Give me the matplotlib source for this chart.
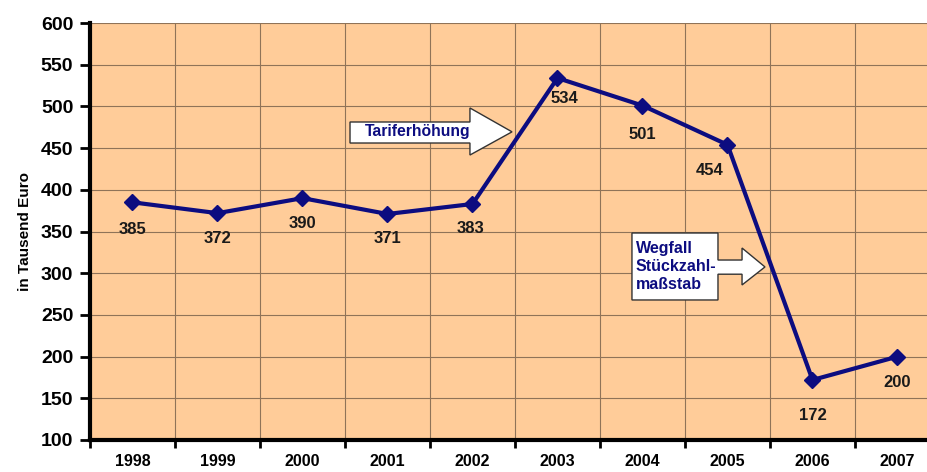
import matplotlib.pyplot as plt
from matplotlib.patches import Polygon

plt.rcParams['font.family'] = ['Liberation Sans', 'DejaVu Sans']

years = ['1998', '1999', '2000', '2001', '2002', '2003', '2004', '2005', '2006', '2007']
values = [385, 372, 390, 371, 383, 534, 501, 454, 172, 200]
# label offsets from each point in pixels (dx, dy), dy negative = below
label_offsets = [(0, -27), (0, -25), (0, -25), (0, -25), (-2, -25),
                 (7, -20), (0, -29), (-18, -26), (0, -36), (0, -26)]

navy = '#0c0c80'
peach = '#ffcc99'
gridc = '#8f7358'

fig = plt.figure(figsize=(9.28, 4.72), dpi=100)
ax = fig.add_axes([90/928, 32/472, 1 - 90/928, (440-23)/472])
ax.set_facecolor(peach)

x = list(range(len(years)))
ax.plot(x, values, c=navy, lw=3, marker='D', ms=8, zorder=5)

for xi, v, (dx, dy) in zip(x, values, label_offsets):
    ax.annotate(str(v), (xi, v), xytext=(dx*0.72, dy*0.72), textcoords='offset points',
                ha='center', va='center', fontsize=12, fontweight='bold', color='#1a1a1a', zorder=6)

ax.set_xlim(-0.5, (928-90)/85 - 0.5)
ax.set_ylim(100, 600)

# grid lines at category boundaries, labels at centres
ax.set_xticks([i - 0.5 for i in range(len(years))])
ax.set_xticklabels([])
ax.set_xticks(x, minor=True)
ax.set_xticklabels(years, minor=True, fontsize=11.5, fontweight='bold')
ax.tick_params(axis='x', which='major', direction='out', length=6, width=2)
ax.tick_params(axis='x', which='minor', length=0, pad=10)

ax.set_yticks(range(100, 601, 50))
ax.tick_params(axis='y', direction='out', length=7, width=2, labelsize=14, pad=5)
for lab in ax.get_yticklabels():
    lab.set_fontweight('bold')

ax.grid(True, which='major', color=gridc, lw=0.8)
ax.set_axisbelow(True)

for s in ['top', 'right']:
    ax.spines[s].set_visible(False)
ax.spines['left'].set_linewidth(3)
ax.spines['bottom'].set_linewidth(3)

ax.set_ylabel('in Tausend Euro', fontsize=11, fontweight='bold', labelpad=6)

# arrow 1: Tariferhöhung
arrow1 = [(2.559, 481.3), (3.97, 481.3), (3.97, 498.1), (4.465, 469.5),
          (3.97, 441.7), (3.97, 456.1), (2.559, 456.1)]
ax.add_patch(Polygon(arrow1, closed=True, fc='white', ec='#333333', lw=1, zorder=4))
ax.text(3.36, 469.5, 'Tariferhöhung', ha='center', va='center', color=navy,
        fontsize=11.3, fontweight='bold', zorder=6)

# arrow 2: Wegfall Stückzahlmaßstab
arrow2 = [(5.876, 348.2), (6.888, 348.2), (6.888, 315.8), (7.171, 315.8), (7.171, 330.2),
          (7.441, 307.5), (7.171, 285.9), (7.171, 298.8), (6.888, 298.8), (6.888, 267.9),
          (5.876, 267.9)]
ax.add_patch(Polygon(arrow2, closed=True, fc='white', ec='#333333', lw=1, zorder=4))
ax.text(5.92, 308, 'Wegfall\nStückzahl-\nmaßstab', ha='left', va='center', color=navy,
        fontsize=11.5, fontweight='bold', linespacing=1.25, zorder=6)

fig.savefig('out.png', dpi=100)
